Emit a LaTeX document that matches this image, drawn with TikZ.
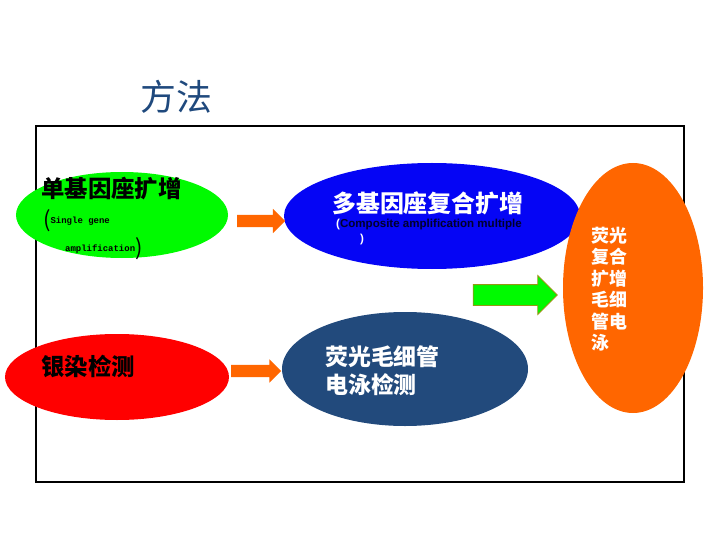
\documentclass[tikz,border=0pt]{standalone}
\usepackage{fontspec}
\usetikzlibrary{shapes.geometric,shapes.arrows}
\newfontfamily\cjk{Noto Sans CJK SC}
\newfontfamily\monofont{Liberation Mono}
\newfontfamily\latinfont{Liberation Sans}
\definecolor{titleblue}{RGB}{31,73,125}
\definecolor{deepblue}{RGB}{34,74,124}
\definecolor{pureblue}{RGB}{5,5,245}
\definecolor{brightgreen}{RGB}{0,250,0}
\definecolor{orng}{RGB}{255,102,0}
\definecolor{olivebdr}{RGB}{150,150,20}
\definecolor{navytext}{RGB}{0,0,45}

\begin{document}
\begin{tikzpicture}[x=1bp,y=-1bp,
  blob/.style={ellipse,inner sep=0pt},
  lbl/.style={anchor=west,inner sep=0pt,align=left},
  blockarrow/.style={single arrow,inner xsep=0pt,text width=0pt,text height=0pt,text depth=0pt}]
\useasboundingbox (0,0) rectangle (720,540);
\draw[line width=1.5bp] (36,126) rectangle (684,482);
\node[text=titleblue,font=\cjk\fontsize{36}{40}\selectfont] (title) at (176,97) {方法};
\node[blob,fill=brightgreen,minimum width=212bp,minimum height=86bp] (single) at (122,215) {};
\node[blob,fill=pureblue,minimum width=296bp,minimum height=106bp] (multi) at (432,216) {};
\node[blob,fill=red,minimum width=224bp,minimum height=86bp] (silver) at (117,377) {};
\node[blob,fill=deepblue,minimum width=246bp,minimum height=114bp] (capdet) at (405,369) {};
\node[blob,fill=orng,minimum width=140bp,minimum height=250bp] (fluor) at (633,288) {};
\node[lbl,font=\cjk\bfseries\fontsize{23.5}{26}\selectfont] (single-txt) at (41,189) {单基因座扩增};
\node[lbl] (single-en1) at (43,221) {{\cjk\fontsize{22}{24}\selectfont (}\raisebox{4bp}{\monofont\bfseries\fontsize{9}{10}\selectfont Single gene}};
\node[lbl] (single-en2) at (65,249) {\raisebox{4bp}{\monofont\bfseries\fontsize{9}{10}\selectfont amplification}{\cjk\fontsize{22}{24}\selectfont )}};
\node[lbl,text=white,font=\cjk\bfseries\fontsize{24}{26}\selectfont] (multi-txt) at (332,203) {多基因座复合扩增};
\node[lbl,font=\latinfont\bfseries\fontsize{11.6}{12}\selectfont] (multi-en1) at (336,225) {\textcolor{white}{(}\textcolor{navytext}{Composite amplification multiple}};
\node[lbl,text=white,font=\latinfont\bfseries\fontsize{11.6}{12}\selectfont] (multi-en2) at (360,240) {)};
\node[lbl,font=\cjk\bfseries\fontsize{23.5}{26}\selectfont] (silver-txt) at (41,366) {银染检测};
\node[lbl,text=white,font=\cjk\bfseries\fontsize{23}{28}\selectfont] (capdet-txt) at (325,371) {荧光毛细管\\电泳检测};
\node[lbl,text=white,font=\cjk\bfseries\fontsize{18}{21.6}\selectfont] (fluor-txt) at (591,289) {荧光\\复合\\扩增\\毛细\\管电\\泳};
\node[blockarrow,fill=orng,inner ysep=6bp,minimum height=48bp,single arrow head extend=6bp] (arr-top) at (258,221) {};
\node[blockarrow,fill=orng,inner ysep=6bp,minimum height=50bp,single arrow head extend=5.5bp] (arr-bottom) at (253,371) {};
\node[blockarrow,fill=brightgreen,draw=olivebdr,line width=0.8bp,inner ysep=10bp,minimum height=84bp,single arrow head extend=9bp] (arr-green) at (510,295) {};
\end{tikzpicture}
\end{document}
